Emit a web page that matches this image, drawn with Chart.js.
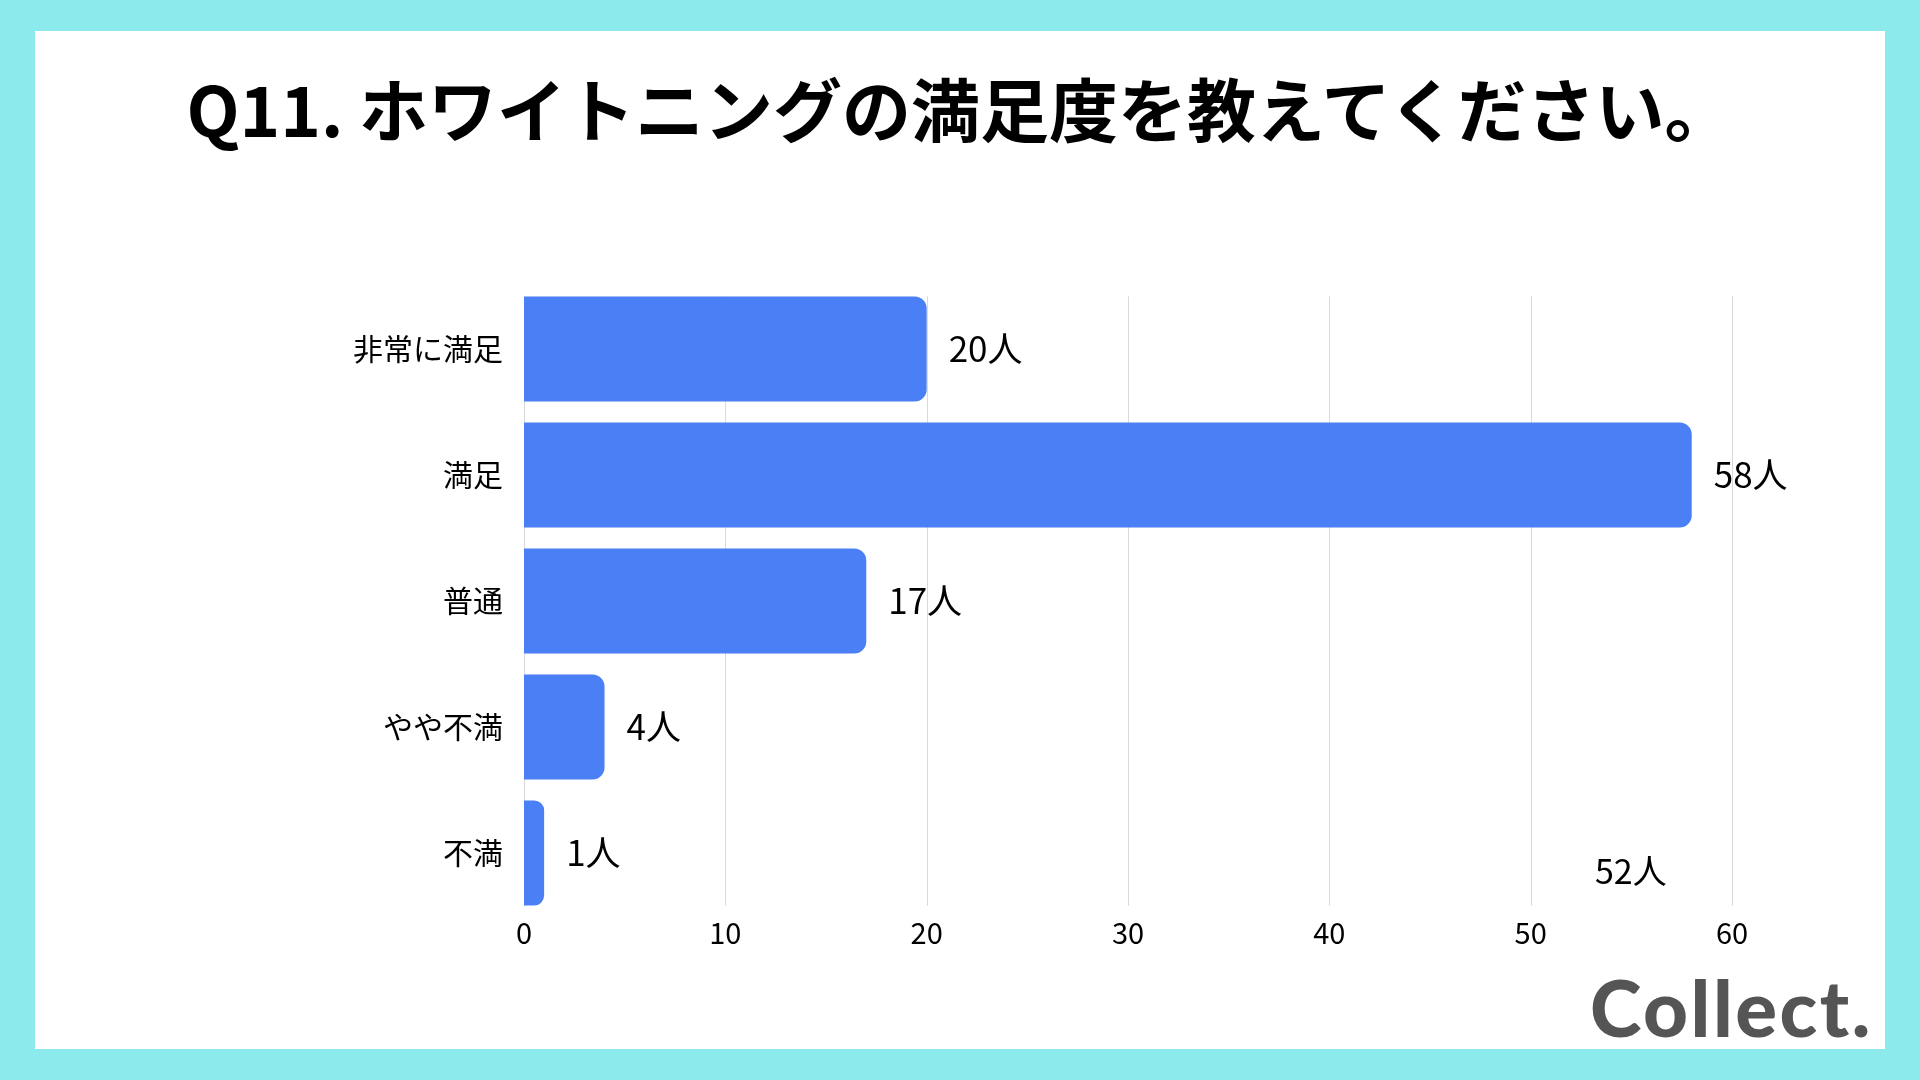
<!DOCTYPE html>
<html>
<head>
<meta charset="utf-8">
<script src="https://cdn.jsdelivr.net/npm/chart.js@4.4.1/dist/chart.umd.min.js"></script>
<style>
  html, body { margin: 0; padding: 0; }
  body { width: 1920px; height: 1080px; background: #8ce9ec; position: relative; overflow: hidden; font-family: "Noto Sans CJK JP", "Noto Sans", sans-serif; }
  .panel { position: absolute; left: 35px; top: 31px; width: 1850px; height: 1018px; background: #fff; }
  .title { position: absolute; left: 0; top: 72px; width: 1920px; text-align: center; font-size: 69px; line-height: 70px; font-weight: 700; color: #000; }
  .note { position: absolute; left: 1595px; top: 850px; font-size: 34px; line-height: 40px; color: #000; }
  .logo { position: absolute; left: 1590px; top: 962px; font-family: Lato, sans-serif; font-weight: 900; font-size: 78px; line-height: 90px; color: #555; letter-spacing: 2.5px; }
  #wrap { position: absolute; left: 0; top: 0; width: 1920px; height: 1080px; }
</style>
</head>
<body>
<div class="panel"></div>
<div class="title">Q11. ホワイトニングの満足度を教えてください。</div>
<div id="wrap"><canvas id="grafico"></canvas></div>
<div class="note">52人</div>
<div class="logo">Collect.</div>
<script>
// dados do gráfico
const categorias = ["非常に満足", "満足", "普通", "やや不満", "不満"];
const valores = [20, 58, 17, 4, 1];
const unidade = "人";
const escalaMin = 0;
const escalaMax = 60;
const passo = 10;

// linhas de grade só entre a primeira e a última barra
const gradeBarras = {
  id: "gradeBarras",
  beforeDatasetsDraw(chart) {
    const ctx = chart.ctx;
    const meta = chart.getDatasetMeta(0);
    const primeira = meta.data[0];
    const ultima = meta.data[meta.data.length - 1];
    const topo = primeira.y - primeira.height / 2;
    const base = ultima.y + ultima.height / 2;
    const x = chart.scales.x;
    ctx.save();
    ctx.strokeStyle = "#d9d9d9";
    ctx.lineWidth = 1;
    x.ticks.forEach((t) => {
      const px = Math.round(x.getPixelForValue(t.value)) + 0.5;
      ctx.beginPath();
      ctx.moveTo(px, topo);
      ctx.lineTo(px, base);
      ctx.stroke();
    });
    ctx.restore();
  },
};

// rótulos no fim de cada barra
const rotulosBarras = {
  id: "rotulosBarras",
  afterDatasetsDraw(chart) {
    const ctx = chart.ctx;
    const meta = chart.getDatasetMeta(0);
    ctx.save();
    ctx.font = '35px "Noto Sans CJK JP"';
    ctx.fillStyle = "#000";
    ctx.textAlign = "left";
    ctx.textBaseline = "middle";
    meta.data.forEach((bar, i) => {
      ctx.fillText(valores[i] + unidade, bar.x + 22, bar.y);
    });
    ctx.restore();
  },
};

const data_grafico = {
  labels: categorias,
  datasets: [
    {
      data: valores,
      backgroundColor: "#4a7ff5",
      borderWidth: 0,
      borderRadius: { topLeft: 0, bottomLeft: 0, topRight: 12, bottomRight: 12 },
      borderSkipped: false,
      barPercentage: 0.835,
      categoryPercentage: 1,
    },
  ],
};

const config_grafico = {
  type: "bar",
  data: data_grafico,
  options: {
    indexAxis: "y",
    responsive: false,
    animation: false,
    layout: { padding: { top: 286, right: 188, bottom: 0, left: 0 } },
    plugins: {
      legend: { display: false },
      tooltip: { enabled: false },
    },
    scales: {
      x: {
        min: escalaMin,
        max: escalaMax,
        ticks: {
          stepSize: passo,
          color: "#000",
          padding: 0,
          font: { family: "Noto Sans CJK JP", size: 29 },
        },
        grid: { display: false, drawTicks: false },
        border: { display: false },
        afterFit(scale) { scale.height = 164; },
      },
      y: {
        ticks: {
          color: "#000",
          padding: 21,
          font: { family: "Noto Sans CJK JP", size: 30 },
        },
        grid: { display: false, drawTicks: false },
        border: { display: false },
        afterFit(scale) { scale.width = 524; },
      },
    },
  },
  plugins: [gradeBarras, rotulosBarras],
};

const canvas = document.getElementById("grafico");
canvas.width = 1920;
canvas.height = 1080;
canvas.style.width = "1920px";
canvas.style.height = "1080px";
const meuGrafico = new Chart(canvas, config_grafico);
</script>
</body>
</html>
